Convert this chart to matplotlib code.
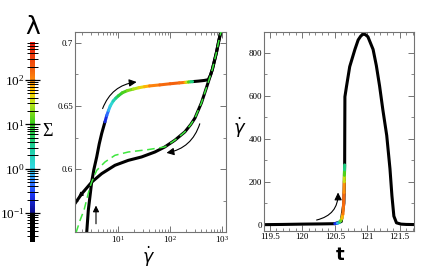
import numpy as np
import matplotlib.pyplot as plt
from matplotlib.collections import LineCollection
from matplotlib.colors import LinearSegmentedColormap, Normalize
from matplotlib.ticker import LogLocator, MultipleLocator, FormatStrFormatter, NullFormatter

plt.rcParams['font.family'] = ['Liberation Serif', 'DejaVu Serif']
plt.rcParams['mathtext.fontset'] = 'stix'

# ---- data: middle panel (stress vs shear rate) ----
# upsweep, black part before the coloured stretch
up_gd = [2.47, 2.65, 3.08, 3.4, 3.85, 4.3, 4.8, 5.55]
up_sig = [0.55, 0.5675, 0.59, 0.60, 0.6098, 0.62, 0.6283, 0.6375]
# coloured stretch of the upsweep with lambda
col_gd = [5.55, 6.0, 6.5, 7.0, 8.0, 9.0, 10, 12, 15, 19.5, 25, 32, 40, 63, 100, 150, 192, 206, 225, 250, 270]
col_sig = [0.6375, 0.6425, 0.6465, 0.65, 0.654, 0.6563, 0.658, 0.6605, 0.6622, 0.6634, 0.6645, 0.6653,
           0.6659, 0.6667, 0.6676, 0.6683, 0.6687, 0.6688, 0.669, 0.6692, 0.6693]
col_lam = [0.15, 0.3, 0.6, 1.0, 1.6, 3.0, 6, 10, 15, 22, 35, 55, 90, 140, 180, 170, 120, 50, 20, 8, 2]
# black plateau joining the flow curve
top_gd = [270, 350, 450, 540, 600, 650, 776, 870, 950]
top_sig = [0.6693, 0.6697, 0.6702, 0.6708, 0.6745, 0.679, 0.692, 0.702, 0.709]
# downsweep (black)
dn_gd = [950, 870, 776, 650, 500, 400, 300, 250, 192, 123, 79, 50.8, 28.2, 15.6, 8.65, 4.8, 3.08, 1.98, 1.47]
dn_sig = [0.709, 0.702, 0.692, 0.679, 0.6645, 0.6525, 0.6405, 0.6355, 0.6296, 0.623, 0.6177, 0.6137, 0.6098,
          0.6071, 0.6032, 0.5966, 0.5899, 0.5807, 0.573]
# green dashed curve
gr_gd = [1.54, 1.85, 2.2, 2.5, 2.8, 3.08, 3.85, 5.55, 8.65, 15.6, 37.8, 79, 123, 192, 250, 300, 400, 500, 650,
         776, 870, 1000]
gr_sig = [0.55, 0.56, 0.568, 0.577, 0.585, 0.59, 0.5992, 0.6058, 0.6111, 0.6137, 0.6156, 0.6177, 0.623,
          0.6296, 0.6355, 0.6405, 0.6525, 0.6645, 0.679, 0.692, 0.702, 0.712]

# ---- data: right panel (shear rate vs time) ----
t_vals = [119.41, 119.7, 120.0, 120.3, 120.5, 120.6, 120.64, 120.652, 120.654, 120.656, 120.68, 120.73,
          120.81, 120.86, 120.9, 120.935, 120.97, 121.01, 121.09, 121.14, 121.19, 121.24, 121.30, 121.35,
          121.38, 121.41, 121.45, 121.52, 121.6, 121.72]
g_vals = [0.5, 1.5, 3, 4, 5, 15, 100, 278, 450, 595, 642, 735,
          815, 859, 877, 886, 884, 874, 815, 740, 645, 535, 415, 260,
          135, 40, 9, 3, 1.5, 1]
ct_vals = [120.50, 120.54, 120.57, 120.59, 120.61, 120.625, 120.635, 120.642, 120.646, 120.648, 120.65, 120.652]
cg_vals = [5, 7, 11, 18, 30, 50, 90, 150, 200, 230, 255, 278]
cl_vals = [0.15, 0.4, 1.5, 8, 40, 110, 170, 150, 60, 20, 8, 2]

# lambda colour scale
lam_lo, lam_hi = -1.0, 2.86
nodes = [(-1.0, (0.05, 0.05, 0.55)), (-0.6, (0.1, 0.2, 0.95)), (-0.3, (0.2, 0.5, 1.0)),
         (0.0, (0.2, 0.85, 0.9)), (0.5, (0.1, 0.8, 0.6)), (1.0, (0.2, 0.8, 0.1)),
         (1.5, (0.75, 0.9, 0.1)), (1.75, (1.0, 0.8, 0.0)), (2.0, (1.0, 0.55, 0.05)),
         (2.3, (0.95, 0.35, 0.05)), (2.86, (0.9, 0.1, 0.05))]
cmap = LinearSegmentedColormap.from_list('lam', [((v - lam_lo) / (lam_hi - lam_lo), c) for v, c in nodes])
cmap.set_under('black')
norm = Normalize(lam_lo, lam_hi)


def colored(ax, x, y, lam, lw):
    pts = np.column_stack([x, y]).reshape(-1, 1, 2)
    segs = np.concatenate([pts[:-1], pts[1:]], axis=1)
    ll = np.log10(lam)
    lc = LineCollection(segs, cmap=cmap, norm=norm, linewidths=lw, capstyle='round', zorder=4)
    lc.set_array((ll[:-1] + ll[1:]) / 2)
    ax.add_collection(lc)


def style(ax):
    for s in ax.spines.values():
        s.set_color('0.45')
        s.set_linewidth(0.8)
    ax.tick_params(which='both', direction='in', top=True, right=True, color='0.45',
                   labelsize=6.5, pad=1.5)
    ax.tick_params(which='major', length=4, width=0.7)
    ax.tick_params(which='minor', length=2, width=0.6)


W, H = 436, 268
fig = plt.figure(figsize=(W / 100, H / 100), dpi=100)

# ---- colour bar ----
cax = fig.add_axes([30 / W, 1 - 242 / H, 5 / W, 200 / H])
edges = np.logspace(-1.65, 2.86, 400)
centers = np.sqrt(edges[:-1] * edges[1:])
cax.pcolormesh([0, 1], edges, np.log10(centers)[:, None], cmap=cmap, norm=norm, shading='flat')
cax.set_yscale('log')
cax.set_ylim(10 ** -1.65, 10 ** 2.86)
cax.set_xlim(0, 1)
for s in cax.spines.values():
    s.set_visible(False)
cax.set_xticks([])
cax.yaxis.set_major_locator(LogLocator(base=10))
cax.yaxis.set_minor_locator(LogLocator(base=10, subs=np.arange(2, 10)))
cax.yaxis.set_minor_formatter(NullFormatter())
cax.tick_params(axis='y', which='both', left=True, right=True, direction='inout', labelsize=9.5, pad=0.5)
cax.tick_params(axis='y', which='major', length=7, width=0.9)
cax.tick_params(axis='y', which='minor', length=4.5, width=0.7)
fig.text(32.5 / W, 1 - 27 / H, 'λ', ha='center', va='center', fontsize=18, family='DejaVu Sans')

# ---- middle panel ----
ax1 = fig.add_axes([75 / W, 1 - 232 / H, 151 / W, 200 / H])
ax1.plot(dn_gd, dn_sig, color='black', lw=2.2, solid_capstyle='round', zorder=2)
ax1.plot(up_gd, up_sig, color='black', lw=2.2, solid_capstyle='round', zorder=2)
ax1.plot(top_gd, top_sig, color='black', lw=2.2, solid_capstyle='round', zorder=2)
ax1.plot(gr_gd, gr_sig, color='#3ee63e', lw=1.1, dashes=(5, 3), zorder=3)
colored(ax1, col_gd, col_sig, col_lam, 2.2)
ax1.set_xscale('log')
ax1.set_xlim(1.47, 1190)
ax1.set_ylim(0.5505, 0.7085)
ax1.yaxis.set_major_locator(MultipleLocator(0.05))
ax1.yaxis.set_minor_locator(MultipleLocator(0.025))
ax1.yaxis.set_major_formatter(FormatStrFormatter('%g'))
ax1.xaxis.set_minor_locator(LogLocator(base=10, subs=np.arange(2, 10)))
ax1.xaxis.set_minor_formatter(NullFormatter())
style(ax1)
ax1.set_ylabel('Σ', rotation=0, fontsize=13, ha='center', va='center')
ax1.yaxis.set_label_coords(-0.18, 0.505)
ax1.set_xlabel(r'$\dot{\gamma}$', fontsize=12.5, math_fontfamily='dejavusans', va='center')
ax1.xaxis.set_label_coords(0.487, -0.125)

arr = dict(arrowstyle='-|>', color='black', lw=0.8, mutation_scale=11, shrinkA=0, shrinkB=0)
ax1.annotate('', xy=(22.6, 0.669), xytext=(5.0, 0.648),
             arrowprops=dict(arr, connectionstyle='arc3,rad=-0.3'))
ax1.annotate('', xy=(85, 0.613), xytext=(372, 0.636),
             arrowprops=dict(arr, connectionstyle='arc3,rad=-0.3'))
ax1.annotate('', xy=(1.7, 0.578), xytext=(2.29, 0.583),
             arrowprops=dict(arr, mutation_scale=7))
ax1.annotate('', xy=(3.73, 0.5714), xytext=(3.73, 0.557),
             arrowprops=dict(arr, mutation_scale=9))

# ---- right panel ----
ax2 = fig.add_axes([264 / W, 1 - 231 / H, 150 / W, 199 / H])
ax2.plot(t_vals, g_vals, color='black', lw=2.2, solid_joinstyle='round', zorder=2)
colored(ax2, ct_vals, cg_vals, cl_vals, 2.2)
ax2.set_xlim(119.41, 121.72)
ax2.set_ylim(-29, 896)
ax2.xaxis.set_major_locator(MultipleLocator(0.5))
ax2.xaxis.set_minor_locator(MultipleLocator(0.1))
ax2.xaxis.set_major_formatter(FormatStrFormatter('%g'))
ax2.yaxis.set_major_locator(MultipleLocator(200))
ax2.yaxis.set_minor_locator(MultipleLocator(100))
style(ax2)
ax2.set_ylabel(r'$\dot{\gamma}$', rotation=0, fontsize=13, math_fontfamily='dejavusans',
               ha='center', va='center')
ax2.yaxis.set_label_coords(-0.16, 0.52)
ax2.set_xlabel('t', fontsize=13, family='DejaVu Sans', weight='bold')
ax2.xaxis.set_label_coords(0.507, -0.075)
ax2.annotate('', xy=(120.55, 150), xytext=(120.22, 22),
             arrowprops=dict(arr, connectionstyle='arc3,rad=0.4'))

fig.savefig('out.png', dpi=100)
